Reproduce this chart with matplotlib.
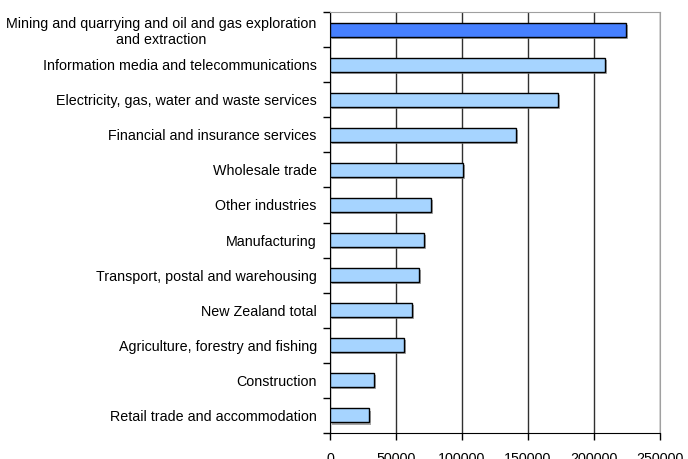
import numpy as np
import matplotlib
matplotlib.use("Agg")
from matplotlib import pyplot as plt
from matplotlib import patheffects

plt.rcParams["font.family"] = ["Liberation Sans", "DejaVu Sans"]

industries = [
    "Mining and quarrying and oil and gas exploration\nand extraction",
    "Information media and telecommunications",
    "Electricity, gas, water and waste services",
    "Financial and insurance services",
    "Wholesale trade",
    "Other industries",
    "Manufacturing",
    "Transport, postal and warehousing",
    "New Zealand total",
    "Agriculture, forestry and fishing",
    "Construction",
    "Retail trade and accommodation",
]
values = [224000, 208500, 173000, 141000, 100500, 76500,
          71000, 67700, 61900, 56000, 33300, 29800]
x_ticks = [0, 50000, 100000, 150000, 200000, 250000]

# bottom-to-top order for barh
labels = industries[::-1]
vals = values[::-1]
colors = ["#A6D4FF"] * len(vals)
colors[-1] = "#4680FF"

fig = plt.figure(figsize=(6.88, 4.59), dpi=100)
ax = fig.add_axes([330 / 688, 1 - 433 / 459, 330 / 688, 421 / 459])

y = np.arange(len(vals))
bars = ax.barh(y, vals, height=0.4, color=colors, edgecolor="black",
               linewidth=1.0, zorder=3)
for b in bars:
    b.set_path_effects([
        patheffects.SimplePatchShadow(offset=(1.5, -1.5), shadow_rgbFace="#808080", alpha=0.7),
        patheffects.Normal(),
    ])

ax.set_xlim(0, 250000)
ax.set_ylim(-0.5, len(vals) - 0.5)
ax.set_xticks(x_ticks)
ax.set_xticklabels([str(t) for t in x_ticks], fontsize=10.3)
ax.xaxis.grid(True, color="#303030", linewidth=1.0, zorder=0)

ax.set_yticks(y)
ax.set_yticklabels(labels, fontsize=10.3, ha="right", multialignment="center")
ax.set_yticks(np.arange(len(vals) + 1) - 0.5, minor=True)
ax.tick_params(axis="y", which="major", length=0, pad=9.5)
ax.tick_params(axis="y", which="minor", length=5, direction="out", width=1)
ax.tick_params(axis="x", length=5, direction="out", width=1, pad=9)

for s in ["top", "right"]:
    ax.spines[s].set_color("#a0a0a0")
for s in ["left", "bottom"]:
    ax.spines[s].set_color("black")
ax.set_axisbelow(True)

fig.savefig("out.png", dpi=100)
